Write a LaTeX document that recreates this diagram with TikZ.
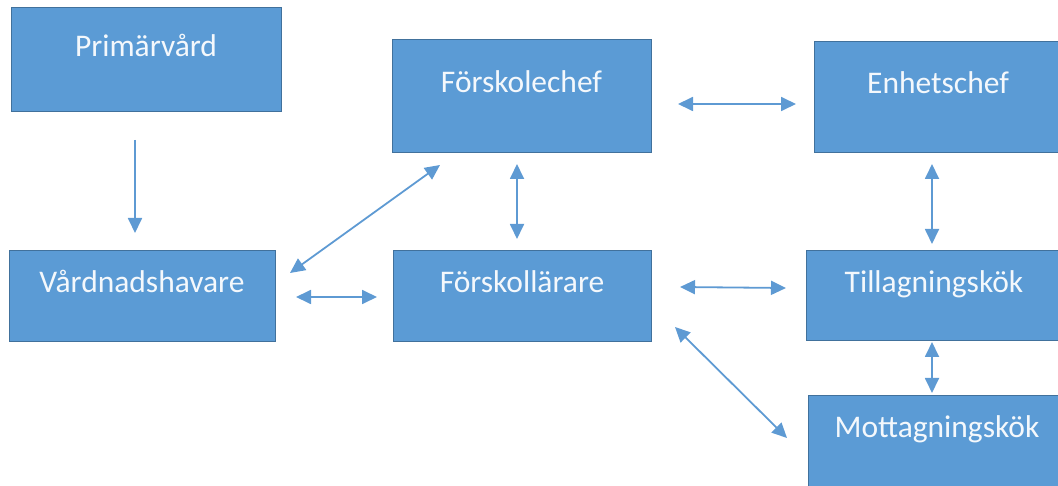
\documentclass[tikz,border=0pt]{standalone}
\usepackage{fontspec}
\setmainfont{Carlito}
\usetikzlibrary{arrows.meta}
\definecolor{boxfill}{HTML}{5B9BD5}
\definecolor{boxline}{HTML}{41719C}
\definecolor{arrowc}{HTML}{5E9AD3}
\definecolor{txt}{HTML}{F4F8FC}
\begin{document}
\begin{tikzpicture}[x=1pt,y=-1pt,
  box/.style={draw=boxline,line width=1pt,fill=boxfill,text=txt,
    font=\fontsize{31.5}{38}\selectfont,inner sep=0pt,
    text height=22pt,text depth=29pt,align=center},
  conn/.style={draw=arrowc,line width=1.8pt},
  tip/.style={-{Triangle[length=15pt,width=14pt]}},
  both/.style={{Triangle[length=15pt,width=14pt]}-{Triangle[length=15pt,width=14pt]}}]
\useasboundingbox (0,0) rectangle (1058,486);
\clip (0,0) rectangle (1058,486);
\node[box,minimum width=270pt,minimum height=104pt] (pv) at (146,60) {Primärvård};
\node[box,minimum width=259pt,minimum height=113pt] (fc) at (521.5,96.5) {Förskolechef};
\node[box,minimum width=248pt,minimum height=111pt] (ec) at (938,97.5) {Enhetschef};
\node[box,minimum width=266pt,minimum height=91pt] (vh) at (142,296.5) {Vårdnadshavare};
\node[box,minimum width=258pt,minimum height=91pt] (fl) at (522,296.5) {Förskollärare};
\node[box,minimum width=256pt,minimum height=90pt] (tk) at (934,296) {Tillagningskök};
\node[box,minimum width=258pt,minimum height=91pt] (mk) at (937,440.5) {Mottagningskök};
% connector end points
\coordinate (pv-s) at (135,140);  \coordinate (vh-n) at (135,233);
\coordinate (fc-e) at (678,104);  \coordinate (ec-w) at (796,104);
\coordinate (fc-s) at (517,164);  \coordinate (fl-n) at (517,239);
\coordinate (ec-s) at (932,164);  \coordinate (tk-n) at (932,244);
\coordinate (vh-ne) at (290,273); \coordinate (fc-sw) at (440,165);
\coordinate (vh-e) at (296,297);  \coordinate (fl-w) at (377,297);
\coordinate (fl-e) at (680,287);  \coordinate (tk-w) at (786,288);
\coordinate (tk-s) at (932,342);  \coordinate (mk-n) at (932,393);
\coordinate (fl-se) at (675,327); \coordinate (mk-nw) at (787,438);
\draw[conn,tip] (pv-s) -- (vh-n);
\draw[conn,both] (fc-e) -- (ec-w);
\draw[conn,both] (fc-s) -- (fl-n);
\draw[conn,both] (ec-s) -- (tk-n);
\draw[conn,both] (vh-ne) -- (fc-sw);
\draw[conn,both] (vh-e) -- (fl-w);
\draw[conn,both] (fl-e) -- (tk-w);
\draw[conn,both] (tk-s) -- (mk-n);
\draw[conn,both] (fl-se) -- (mk-nw);
\end{tikzpicture}
\end{document}
